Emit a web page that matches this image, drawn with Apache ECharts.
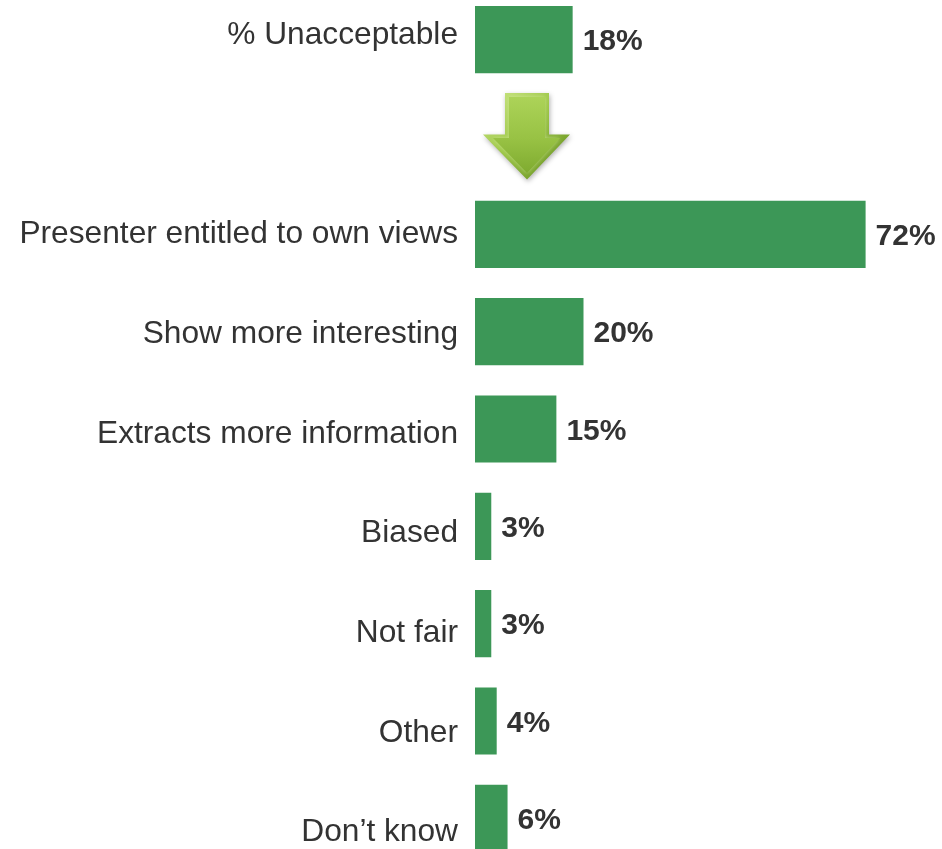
<!DOCTYPE html>
<html>
<head>
<meta charset="utf-8">
<script src="https://cdn.jsdelivr.net/npm/echarts@6/dist/echarts.min.js"></script>
<style>
  html, body { margin: 0; padding: 0; background: #ffffff; }
  #chart { width: 942px; height: 849px; }
</style>
</head>
<body>
<div id="chart"></div>
<script>
// Reasons given for finding the presenter acceptable/unacceptable
const categories = [
  '% Unacceptable',
  '',
  'Presenter entitled to own views',
  'Show more interesting',
  'Extracts more information',
  'Biased',
  'Not fair',
  'Other',
  'Don\u2019t know'
];
const values = [18, null, 72, 20, 15, 3, 3, 4, 6];
const arrowRow = '';

const FONT = '"Liberation Sans", Arial, "Helvetica Neue", sans-serif';
const TEXT = '#333333';
const GREEN = '#3c9757';

const chart = echarts.init(document.getElementById('chart'), null, { renderer: 'canvas' });

chart.setOption({
  animation: false,
  backgroundColor: '#ffffff',
  grid: [
    // bars
    { left: 475, right: 33, top: -9, bottom: -18, outerBoundsMode: 'none', containLabel: false },
    // category text, laid out on a slightly wider row pitch
    { left: 475, right: 33, top: -14.5, bottom: -33.5, outerBoundsMode: 'none', containLabel: false }
  ],
  xAxis: [
    { type: 'value', gridIndex: 0, min: 0, max: 80, show: false },
    { type: 'value', gridIndex: 1, min: 0, max: 80, show: false }
  ],
  yAxis: [
    {
      type: 'category', gridIndex: 0, data: categories, inverse: true,
      axisLine: { show: false }, axisTick: { show: false }, axisLabel: { show: false },
      splitLine: { show: false }
    },
    {
      type: 'category', gridIndex: 1, data: categories, inverse: true,
      axisLine: { show: false }, axisTick: { show: false }, splitLine: { show: false },
      axisLabel: {
        show: true, margin: 17, color: TEXT, fontFamily: FONT, fontSize: 31.7
      }
    }
  ],
  series: [
    {
      type: 'bar',
      xAxisIndex: 0, yAxisIndex: 0,
      data: values,
      barCategoryGap: '31%',
      itemStyle: { color: GREEN },
      label: {
        show: true, position: 'right', distance: 10, offset: [0, 2.5],
        formatter: '{c}%', color: TEXT, fontFamily: FONT,
        fontSize: 30, fontWeight: 'bold'
      },
      silent: true
    }
  ]
});

// Downward arrow placed in the blank row between the summary bar and the reasons
function drawArrow() {
  const origin = chart.convertToPixel({ gridIndex: 0 }, [0, arrowRow]);
  const x0 = origin[0];
  const cy = origin[1];
  const toPx = p => [x0 + p[0], cy + p[1]];
  const outer = [
    [30, -44], [74, -44], [74, -2.5], [95, -2.5],
    [52, 42.5], [8, -2.5], [30, -2.5]
  ].map(toPx);
  const face = [
    [34, -40], [70, -40], [70, 1], [85, 1],
    [52, 36], [18, 1], [34, 1]
  ].map(toPx);

  chart.setOption({
    graphic: [
      {
        type: 'polygon',
        shape: { points: outer },
        style: {
          fill: new echarts.graphic.LinearGradient(0, 0, 1, 1, [
            { offset: 0, color: '#cfe98a' },
            { offset: 0.45, color: '#9cc646' },
            { offset: 1, color: '#5e891a' }
          ]),
          shadowBlur: 5, shadowColor: 'rgba(0,0,0,0.3)', shadowOffsetX: 1, shadowOffsetY: 2
        },
        silent: true
      },
      {
        type: 'polygon',
        shape: { points: face },
        style: {
          fill: new echarts.graphic.LinearGradient(0, 0, 0, 1, [
            { offset: 0, color: '#acd358' },
            { offset: 0.55, color: '#98c244' },
            { offset: 1, color: '#7fab30' }
          ]),
          shadowBlur: 4, shadowColor: 'rgba(220,240,170,0.6)'
        },
        silent: true
      }
    ]
  });
}
drawArrow();
</script>
</body>
</html>
